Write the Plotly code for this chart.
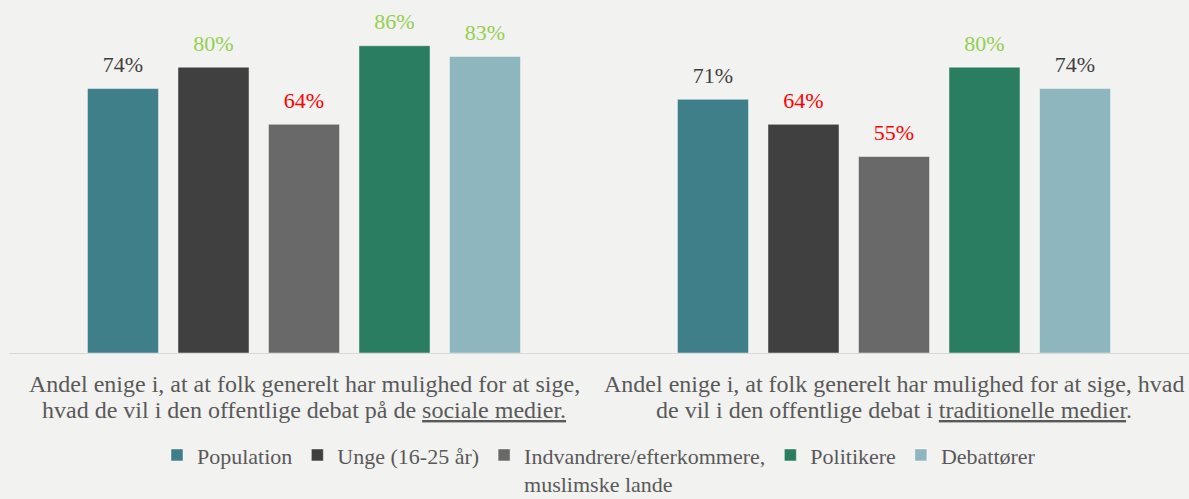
import plotly.graph_objects as go

categories = ["Sociale medier", "Traditionelle medier"]
category_lines = [
    ["Andel enige i, at at folk generelt har mulighed for at sige,",
     "hvad de vil i den offentlige debat på de <u>sociale medier.</u>"],
    ["Andel enige i, at folk generelt har mulighed for at sige, hvad",
     "de vil i den offentlige debat i <u>traditionelle medier</u>."],
]
series_names = ["Population", "Unge (16-25 år)", "Indvandrere/efterkommere,<br>muslimske lande", "Politikere", "Debattører"]
population = [74, 71]
unge = [80, 64]
indvandrere = [64, 55]
politikere = [86, 80]
debattorer = [83, 74]
values = [population, unge, indvandrere, politikere, debattorer]

bar_colors = ["#3E7F8A", "#404040", "#696969", "#2B7D61", "#8EB6BE"]
GREEN, RED, GRAY = "#92D050", "#FF0000", "#404040"
label_colors = [
    [GRAY, GRAY],
    [GREEN, RED],
    [RED, RED],
    [GREEN, GREEN],
    [GREEN, GRAY],
]

SERIF = "Liberation Serif"
TXT = "#595959"

fig = go.Figure()
for i, (name, vals, col) in enumerate(zip(series_names, values, bar_colors)):
    fig.add_trace(go.Bar(
        x=categories, y=vals, name=name, offsetgroup=str(i),
        marker=dict(color=col, line=dict(color="rgba(255,255,255,0.45)", width=1)),
        hoverinfo="skip",
    ))
for i, (name, vals, lcols) in enumerate(zip(series_names, values, label_colors)):
    fig.add_trace(go.Scatter(
        x=categories, y=vals, mode="markers+text", offsetgroup=str(i),
        marker=dict(size=16, opacity=0),
        text=[f"{v}%" for v in vals],
        textposition="top center",
        textfont=dict(family=SERIF, size=22, color=lcols),
        cliponaxis=False, showlegend=False, hoverinfo="skip",
    ))

annotations = []
for cat, lines in zip(categories, category_lines):
    for j, line in enumerate(lines):
        annotations.append(dict(
            x=cat, xref="x", y=0, yref="paper", yanchor="middle",
            yshift=-31 - 26 * j, text=line, showarrow=False,
            font=dict(family=SERIF, size=24, color=TXT),
        ))

fig.update_layout(
    width=1189, height=499,
    paper_bgcolor="#F2F2F1", plot_bgcolor="#F2F2F1",
    margin=dict(l=9, r=0, t=10, b=146),
    barmode="group", bargap=0.233, bargroupgap=0.215,
    scattermode="group", scattergap=0.233,
    font=dict(family=SERIF, size=24, color=TXT),
    xaxis=dict(showline=True, linecolor="#D9D9D9", linewidth=1, ticks="",
               showticklabels=False, showgrid=False, fixedrange=True),
    yaxis=dict(range=[0, 96], visible=False, showgrid=False, fixedrange=True),
    legend=dict(orientation="h", x=0.5, xanchor="center", yref="container", y=0.13, yanchor="top",
                font=dict(family=SERIF, size=22, color=TXT),
                bgcolor="rgba(0,0,0,0)", itemwidth=30, valign="top", tracegroupgap=0),
    annotations=annotations,
    showlegend=True,
)

fig.write_html("out.html", config={"displayModeBar": False},
               post_script="document.body.style.margin='0';")
